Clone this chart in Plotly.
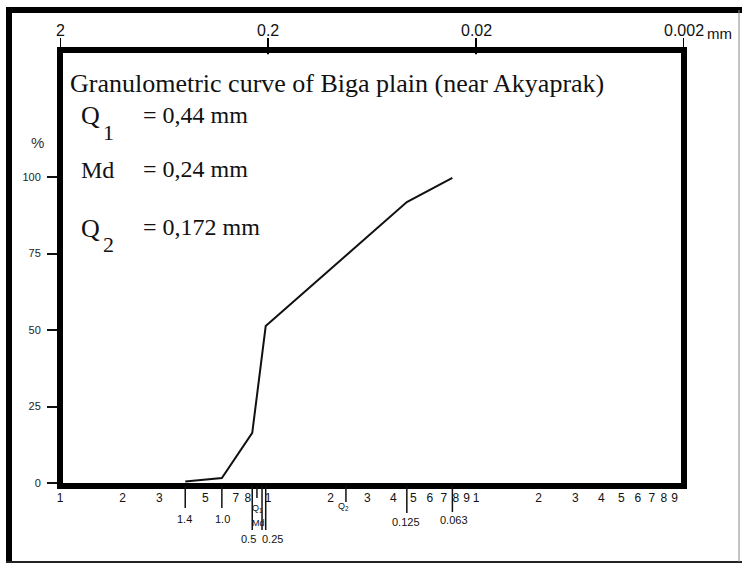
import numpy as np
import plotly.graph_objects as go

# ---------------- data ----------------
sieve_labels = ["1.4", "1.0", "0.5", "0.25", "0.125", "0.063"]      # sieve openings (mm)
sieve_pos = [4.0, 6.0, 8.4, 9.75, 46.5, 77.0]                      # position on the log paper
passing_pct = [0.5, 1.6, 16.4, 51.3, 91.8, 99.7]                    # cumulative %

stat_labels = ["Q<sub>1</sub>", "Md", "Q<sub>2</sub>"]
stat_pos = [8.85, 9.36, 23.7]

top_tick_pos = [1, 10, 100, 1000]
top_tick_labels = ["2", "0.2", "0.02", "0.002"]

paper_cycle_bases = [1, 10, 100]
paper_cycle_digits = [[1, 2, 3, 5, 7, 8], [1, 2, 3, 4, 5, 6, 7, 8, 9], [1, 2, 3, 4, 5, 6, 7, 8, 9]]

pct_ticks = [0, 25, 50, 75, 100]

title_text = "Granulometric curve of Biga plain (near Akyaprak)"
stat_names = ["Q", "Md", "Q"]
stat_subs = ["1", "", "2"]
stat_values = ["= 0,44 mm", "= 0,24 mm", "= 0,172 mm"]

# --------------- layout constants ---------------
W, H = 742, 564
L, R, T, B = 60, 58, 50, 78
PW, PH = W - L - R, H - T - B
NARROW = "Liberation Sans Narrow, Arial Narrow, Liberation Sans, Arial, sans-serif"
SERIF = "Liberation Serif, Times New Roman, serif"


def px_x(p):
    return (p - L) / PW


def px_y(p):
    return (H - B - p) / PH


bottom_vals = [d * b for b, ds in zip(paper_cycle_bases, paper_cycle_digits) for d in ds]
bottom_text = [str(d) for b, ds in zip(paper_cycle_bases, paper_cycle_digits) for d in ds]

fig = go.Figure()
fig.add_trace(go.Scatter(x=sieve_pos, y=passing_pct, mode="lines",
                         line=dict(color="#111111", width=2), hoverinfo="skip",
                         showlegend=False))

fig.update_layout(
    width=W, height=H,
    margin=dict(l=L, r=R, t=T, b=B, pad=0),
    paper_bgcolor="white", plot_bgcolor="white",
    showlegend=False,
    xaxis=dict(type="log", range=[0, 3], showgrid=False, zeroline=False, showline=False,
               automargin=False,
               tickmode="array", tickvals=bottom_vals, ticktext=bottom_text,
               ticks="", ticklabelstandoff=3,
               tickfont=dict(family=NARROW, size=12, color="#111")),
    yaxis=dict(range=[-0.98, 141.5], showgrid=False, zeroline=False, showline=False,
               automargin=False,
               tickmode="array", tickvals=pct_ticks, ticktext=[str(v) for v in pct_ticks],
               ticks="outside", ticklen=12, tickwidth=2, tickcolor="#111",
               ticklabelstandoff=4,
               tickfont=dict(family=NARROW, size=11, color="#222")),
)

shapes = []
# inner thick frame
shapes.append(dict(type="rect", xref="paper", yref="paper", x0=0, x1=1, y0=0, y1=1,
                   line=dict(color="black", width=6), layer="above"))
# outer frame of the sheet
shapes.append(dict(type="line", xref="paper", yref="paper", x0=px_x(9), x1=px_x(9),
                   y0=px_y(7), y1=px_y(563), line=dict(color="black", width=6)))
shapes.append(dict(type="line", xref="paper", yref="paper", x0=px_x(6), x1=px_x(742),
                   y0=px_y(10), y1=px_y(10), line=dict(color="black", width=6)))
shapes.append(dict(type="line", xref="paper", yref="paper", x0=px_x(6), x1=px_x(742),
                   y0=px_y(562), y1=px_y(562), line=dict(color="#222", width=2)))
shapes.append(dict(type="line", xref="paper", yref="paper", x0=px_x(739), x1=px_x(739),
                   y0=px_y(10), y1=px_y(562), line=dict(color="#888", width=1)))

# top (mm) tick marks crossing the top of the frame
for pos in top_tick_pos:
    shapes.append(dict(type="line", xref="x", yref="paper",
                       x0=pos, x1=pos, y0=0.99, y1=px_y(38),
                       line=dict(color="#000", width=2), layer="above"))

# sieve tick lines below the frame
sieve_len = [22, 22, 44, 44, 27, 26]
for pos, ln in zip(sieve_pos, sieve_len):
    shapes.append(dict(type="line", xref="x", yref="paper", ysizemode="pixel", yanchor=0,
                       x0=pos, x1=pos, y0=0, y1=-ln, line=dict(color="#111", width=1.5)))
stat_len = [12, 44, 16]
for pos, ln in zip(stat_pos, stat_len):
    shapes.append(dict(type="line", xref="x", yref="paper", ysizemode="pixel", yanchor=0,
                       x0=pos, x1=pos, y0=0, y1=-ln, line=dict(color="#111", width=1.5)))
fig.update_layout(shapes=shapes)

ann = []
# top (mm) scale labels
for pos, lab in zip(top_tick_pos, top_tick_labels):
    ann.append(dict(text=lab, xref="x", yref="paper", x=np.log10(pos), y=1,
                    xanchor="center", yanchor="middle", yshift=20,
                    showarrow=False, font=dict(family=NARROW, size=16, color="#111")))
# sieve labels
sieve_dy = [33, 33, 53, 53, 36, 34]
sieve_dx = [-1, 1, -4, 7, -1, 2]
for lab, pos, dy, dx in zip(sieve_labels, sieve_pos, sieve_dy, sieve_dx):
    ann.append(dict(text=lab, xref="x", yref="paper", x=np.log10(pos), y=0,
                    xanchor="center", yanchor="middle", yshift=-dy, xshift=dx,
                    showarrow=False, font=dict(family=NARROW, size=11, color="#111")))
stat_dy = [22, 37, 20]
stat_dx = [1, -4, -2]
for lab, pos, dy, dx in zip(stat_labels, stat_pos, stat_dy, stat_dx):
    ann.append(dict(text=lab, xref="x", yref="paper", x=np.log10(pos), y=0,
                    xanchor="center", yanchor="middle", yshift=-dy, xshift=dx,
                    showarrow=False, font=dict(family=NARROW, size=9, color="#111")))

# title and statistics
ann.append(dict(text=title_text, xref="paper", yref="paper", x=px_x(68), y=px_y(83),
                xanchor="left", yanchor="middle", showarrow=False,
                font=dict(family=SERIF, size=26, color="#111")))
stat_y = [116, 170, 228]
for name, sub, val, yy in zip(stat_names, stat_subs, stat_values, stat_y):
    ann.append(dict(text=name, xref="paper", yref="paper", x=px_x(79), y=px_y(yy),
                    xanchor="left", yanchor="middle", showarrow=False,
                    font=dict(family=SERIF, size=26 if name == "Q" else 24, color="#111")))
    if sub:
        ann.append(dict(text=sub, xref="paper", yref="paper", x=px_x(101), y=px_y(yy + 16),
                        xanchor="left", yanchor="middle", showarrow=False,
                        font=dict(family=SERIF, size=22, color="#111")))
    ann.append(dict(text=val, xref="paper", yref="paper", x=px_x(141), y=px_y(yy - 1),
                    xanchor="left", yanchor="middle", showarrow=False,
                    font=dict(family=SERIF, size=24, color="#111")))

ann.append(dict(text="%", xref="paper", yref="paper", x=px_x(37), y=px_y(142),
                xanchor="center", yanchor="middle", showarrow=False,
                font=dict(family=NARROW, size=15, color="#333")))
ann.append(dict(text="mm", xref="paper", yref="paper", x=px_x(719), y=px_y(33),
                xanchor="center", yanchor="middle", showarrow=False,
                font=dict(family="Liberation Sans, Arial, sans-serif", size=15, color="#111")))
fig.update_layout(annotations=ann)

fig.write_html("out.html")
